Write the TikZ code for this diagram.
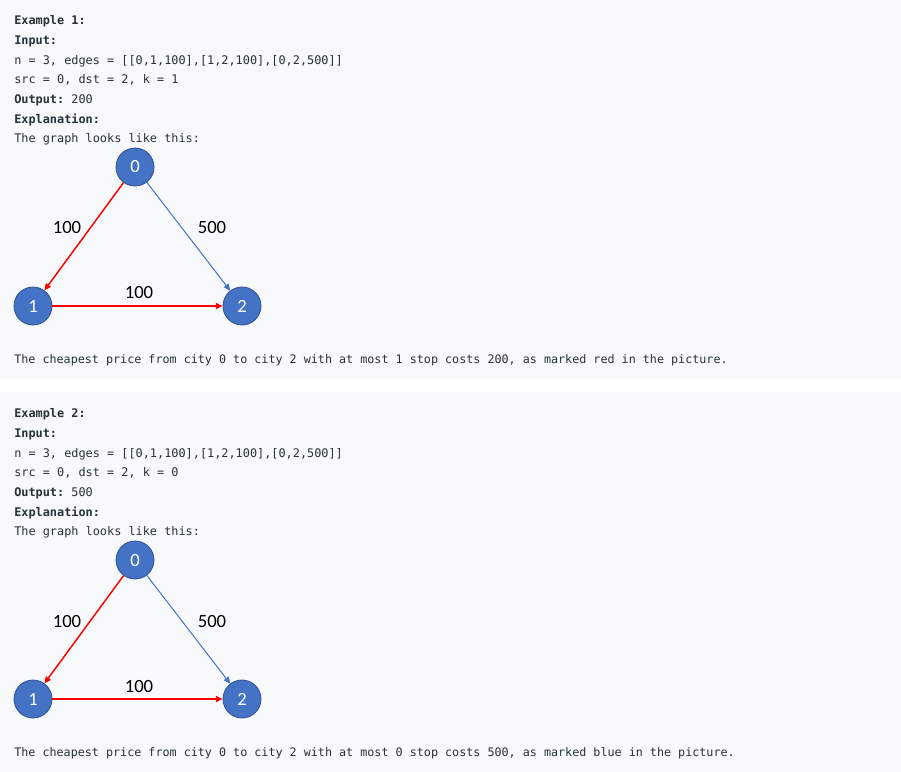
\documentclass[tikz,border=0pt]{standalone}
\usepackage{fontspec}
\setmainfont{Liberation Sans}
\setmonofont{DejaVu Sans Mono}
\newfontfamily\calib{Carlito}
\usetikzlibrary{arrows.meta}
\definecolor{panelbg}{HTML}{F7F9FA}
\definecolor{codetext}{HTML}{263238}
\definecolor{cityblue}{HTML}{4472C4}
\definecolor{cityrim}{HTML}{2F528F}

\begin{document}
\begin{tikzpicture}[x=0.75pt,y=-0.75pt,
 txt/.style={anchor=base west,inner sep=0pt,text=codetext,font=\fontsize{8.9pt}{10pt}\ttfamily},
 note/.style={txt,font=\fontsize{8.8pt}{10pt}\ttfamily},
 city/.style={circle,draw=cityrim,line width=0.6pt,fill=cityblue,minimum size=28.5pt,inner sep=0pt,text=white,font=\fontsize{14pt}{16pt}\calib},
 cost/.style={inner sep=0pt,font=\fontsize{14pt}{16pt}\calib},
 redroute/.style={red,line width=1.1pt,-{Triangle[length=5pt,width=4.5pt]}},
 blueroute/.style={cityblue,line width=0.75pt,-{Triangle[length=5pt,width=4.5pt]}}]
 \useasboundingbox (0,0) rectangle (901,772);
 \fill[white] (0,0) rectangle (901,772);
 \fill[panelbg] (0,0) rectangle (901,379);
 \fill[panelbg] (0,392) rectangle (901,772);

 \node[txt] (ex1) at (14,24) {\textbf{Example 1:}};
 \node[txt] (in1) at (14,44) {\textbf{Input:}};
 \node[txt] (edges1) at (14,64) {n = 3, edges = [[0,1,100],[1,2,100],[0,2,500]]};
 \node[txt] (args1) at (14,83) {src = 0, dst = 2, k = 1};
 \node[txt] (out1) at (14,103) {\textbf{Output:} 200};
 \node[txt] (expl1) at (14,123) {\textbf{Explanation:}};
 \node[txt] (look1) at (14,142) {The graph looks like this:};
 \node[city] (a0) at (135,167) {0};
 \node[city] (a1) at (33,306) {1};
 \node[city] (a2) at (242,306) {2};
 \draw[redroute] (a0) -- (a1);
 \draw[blueroute] (a0) -- (a2);
 \draw[redroute] (a1) -- (a2);
 \node[cost] (c01) at (67,228) {100};
 \node[cost] (c02) at (212,228) {500};
 \node[cost] (c12) at (139,293) {100};
 \node[note] (note1) at (14,363) {The cheapest price from city 0 to city 2 with at most 1 stop costs 200, as marked red in the picture.};

 \node[txt] (ex2) at (14,417) {\textbf{Example 2:}};
 \node[txt] (in2) at (14,437) {\textbf{Input:}};
 \node[txt] (edges2) at (14,457) {n = 3, edges = [[0,1,100],[1,2,100],[0,2,500]]};
 \node[txt] (args2) at (14,476) {src = 0, dst = 2, k = 0};
 \node[txt] (out2) at (14,496) {\textbf{Output:} 500};
 \node[txt] (expl2) at (14,516) {\textbf{Explanation:}};
 \node[txt] (look2) at (14,535) {The graph looks like this:};
 \node[city] (b0) at (135,560) {0};
 \node[city] (b1) at (33,699) {1};
 \node[city] (b2) at (242,699) {2};
 \draw[redroute] (b0) -- (b1);
 \draw[blueroute] (b0) -- (b2);
 \draw[redroute] (b1) -- (b2);
 \node[cost] (d01) at (67,621) {100};
 \node[cost] (d02) at (212,621) {500};
 \node[cost] (d12) at (139,686) {100};
 \node[note] (note2) at (14,756) {The cheapest price from city 0 to city 2 with at most 0 stop costs 500, as marked blue in the picture.};
\end{tikzpicture}
\end{document}
